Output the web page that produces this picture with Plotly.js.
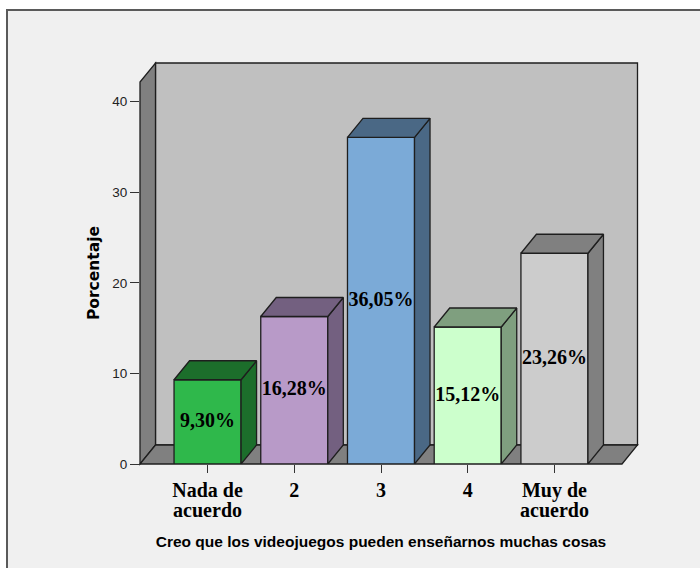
<!DOCTYPE html>
<html>
<head>
<meta charset="utf-8">
<script src="https://cdn.plot.ly/plotly-3.0.1.min.js"></script>
<style>html,body{margin:0;padding:0;background:#fff;}</style>
</head>
<body>
<div id="chart" style="width:700px;height:568px;"></div>
<script>
// ---- data ----
const categories = [0, 1, 2, 3, 4];
const tickLabelsLine1 = ['Nada de', '2', '3', '4', 'Muy de'];
const tickLabelsLine2 = ['acuerdo', '', '', '', 'acuerdo'];
const percentages = [9.30, 16.28, 36.05, 15.12, 23.26];
const frontColors = ['#2fb84b', '#b89ac8', '#7baad7', '#ccffcc', '#cccccc'];
const darkColors  = ['#1c6e2b', '#736080', '#4a6885', '#7f9f7f', '#808080'];
const yTicks = [0, 10, 20, 30, 40];

// ---- geometry (3D look) ----
const W = 700, H = 568;
const M = {l: 140, r: 78, t: 82, b: 104};
const plotW = W - M.l - M.r, plotH = H - M.t - M.b;
const xRange = [-0.779, 4.779];
const yRange = [0, 42.16];
const barW = 0.773;
const DXPX = 15.5, DYPX = 19;
const pxPerX = plotW / (xRange[1] - xRange[0]);
const pxPerY = plotH / (yRange[1] - yRange[0]);
const dx = DXPX / pxPerX, dy = DYPX / pxPerY;        // depth in data units
const dxp = DXPX / plotW, dyp = DYPX / plotH;        // depth in paper units
const edge = '#1e1e1e';

const traces = [];
// front faces
traces.push({
  type: 'bar', x: categories, y: percentages, width: barW,
  marker: {color: frontColors, line: {color: edge, width: 1.3}},
  textposition: 'none', hoverinfo: 'skip', showlegend: false
});
// side and top faces
categories.forEach((c, i) => {
  const x0 = c - barW / 2, x1 = c + barW / 2, h = percentages[i];
  traces.push({
    type: 'scatter', mode: 'lines', fill: 'toself', fillcolor: darkColors[i],
    x: [x1, x1 + dx, x1 + dx, x1, x1], y: [0, dy, h + dy, h, 0],
    line: {color: edge, width: 1.3}, hoverinfo: 'skip', showlegend: false
  });
  traces.push({
    type: 'scatter', mode: 'lines', fill: 'toself', fillcolor: darkColors[i],
    x: [x0, x1, x1 + dx, x0 + dx, x0], y: [h, h, h + dy, h + dy, h],
    line: {color: edge, width: 1.3}, hoverinfo: 'skip', showlegend: false
  });
});
// value labels
traces.push({
  type: 'scatter', mode: 'text', x: categories,
  y: percentages.map(v => v / 2),
  text: percentages.map(v => v.toFixed(2).replace('.', ',') + '%'),
  textposition: 'middle center', cliponaxis: false,
  textfont: {family: 'Liberation Serif', size: 20, color: '#000', weight: 'bold'},
  hoverinfo: 'skip', showlegend: false
});
// invisible trace to activate the second-line tick axis
traces.push({type: 'scatter', mode: 'none', x: [categories[0]], y: [0], xaxis: 'x2',
  hoverinfo: 'skip', showlegend: false});

// frame + walls (paper coordinates)
const fx0 = (7 - M.l) / plotW, fx1 = (W + 20 - M.l) / plotW;
const fyTop = (H - M.b - 10) / plotH, fyBot = (H - M.b - (H + 20)) / plotH;
const shapes = [
  {type: 'rect', xref: 'paper', yref: 'paper', x0: fx0, x1: fx1, y0: fyBot, y1: fyTop,
   fillcolor: '#f0f0f0', line: {color: '#5a5a5a', width: 2}, layer: 'below'},
  {type: 'rect', xref: 'paper', yref: 'paper', x0: dxp, x1: 1 + dxp, y0: dyp, y1: 1 + dyp,
   fillcolor: '#c0c0c0', line: {color: edge, width: 1.3}, layer: 'below'},
  {type: 'path', xref: 'paper', yref: 'paper',
   path: `M 0 0 L ${dxp} ${dyp} L ${dxp} ${1 + dyp} L 0 1 Z`,
   fillcolor: '#808080', line: {color: edge, width: 1.3}, layer: 'below'},
  {type: 'path', xref: 'paper', yref: 'paper',
   path: `M 0 0 L 1 0 L ${1 + dxp} ${dyp} L ${dxp} ${dyp} Z`,
   fillcolor: '#808080', line: {color: edge, width: 1.3}, layer: 'below'}
];

const tickFont = {family: 'Liberation Serif', size: 20, color: '#000', weight: 'bold'};
const layout = {
  width: W, height: H,
  margin: M,
  paper_bgcolor: '#ffffff', plot_bgcolor: 'rgba(0,0,0,0)',
  showlegend: false,
  xaxis: {
    range: xRange, tickvals: categories, ticktext: tickLabelsLine1,
    showgrid: false, zeroline: false, showline: false,
    ticks: 'outside', ticklen: 8, tickcolor: '#333', tickwidth: 1,
    tickfont: tickFont,
    title: {text: 'Creo que los videojuegos pueden enseñarnos muchas cosas',
            font: {family: 'Liberation Sans', size: 15.5, color: '#000', weight: 'bold'},
            standoff: 35},
    fixedrange: true
  },
  xaxis2: {
    overlaying: 'x', side: 'bottom', anchor: 'y',
    range: xRange, tickvals: categories, ticktext: tickLabelsLine2,
    showgrid: false, zeroline: false, showline: false,
    ticks: 'outside', ticklen: 8, tickcolor: 'rgba(0,0,0,0)',
    ticklabelstandoff: 20,
    tickfont: tickFont, fixedrange: true
  },
  yaxis: {
    range: yRange, tickvals: yTicks,
    showgrid: false, zeroline: false, showline: false,
    ticks: 'outside', ticklen: 9, tickcolor: '#333', tickwidth: 1,
    tickfont: {family: 'Liberation Sans', size: 13.5, color: '#222'},
    title: {text: 'Porcentaje',
            font: {family: 'DejaVu Sans', size: 15.5, color: '#000', weight: 'bold'},
            standoff: 8},
    fixedrange: true
  },
  shapes: shapes
};

Plotly.newPlot('chart', traces, layout, {displayModeBar: false, staticPlot: true});
</script>
</body>
</html>
